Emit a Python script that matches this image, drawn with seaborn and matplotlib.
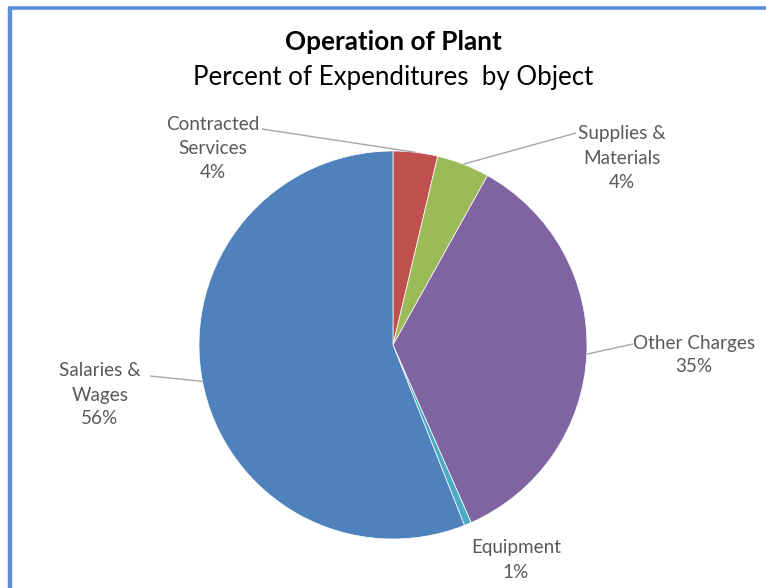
import matplotlib
matplotlib.use("Agg")
import matplotlib.pyplot as plt
import numpy as np
import seaborn as sns

sns.set_theme(style="white")
plt.rcParams["font.family"] = ["Lato", "DejaVu Sans"]

# Expenditure shares by object (percent)
categories = ["Contracted Services", "Supplies & Materials", "Other Charges",
              "Equipment", "Salaries & Wages"]
label_lines = ["Contracted\nServices", "Supplies &\nMaterials", "Other Charges",
               "Equipment", "Salaries &\nWages"]
shares = [3.7, 4.4, 35.3, 0.6, 56.0]
colors = ["#C0504D", "#9BBB59", "#8064A2", "#4BACC6", "#4F81BD"]

W, H = 766, 588
fig = plt.figure(figsize=(W / 100, H / 100), dpi=100)
ax = fig.add_axes([0, 0, 1, 1])

cx, cy, r = 393, H - 345, 194
wedges, _ = ax.pie(shares, colors=colors, startangle=90, counterclock=False,
                   center=(cx, cy), radius=r, frame=True,
                   wedgeprops=dict(edgecolor="white", linewidth=0.5))
ax.set_xlim(0, W)
ax.set_ylim(0, H)
ax.set_aspect("equal")
ax.axis("off")

# label placement (pixel coords from top-left) and leader-line start points
label_pos = [(213, 148), (622, 158), (694, 355), (516, 560), (100, 395)]
line_start = [(262, 129), (576, 133), (633, 344), None, (150, 376)]

total = sum(shares)
cum = 0.0
for i, (name, val) in enumerate(zip(label_lines, shares)):
    mid = cum + val / 2
    cum += val
    ang = np.deg2rad(90 - 360 * mid / total)
    ex, ey = cx + r * np.cos(ang), cy + r * np.sin(ang)
    lx, ly = label_pos[i]
    ax.text(lx, H - ly, f"{name}\n{round(val):.0f}%", ha="center", va="center",
            fontsize=13.6, color="#595959", linespacing=1.5)
    if line_start[i] is not None:
        sx, sy = line_start[i]
        ax.plot([sx, ex], [H - sy, ey], color="#A6A6A6", lw=1.0,
                solid_capstyle="butt")

fig.text(393 / W, 1 - 42 / H, "Operation of Plant", ha="center", va="center",
         fontsize=18.8, fontweight="bold", color="black")
fig.text(393 / W, 1 - 77 / H, "Percent of Expenditures  by Object", ha="center",
         va="center", fontsize=18.6, color="black")

# chart-area frame
ax.plot([9.5, 9.5], [0, H - 7], color="#5B8FD9", lw=3.2, solid_capstyle="butt")
ax.plot([8, W], [H - 7.5, H - 7.5], color="#5B8FD9", lw=2.6,
        solid_capstyle="butt")

fig.savefig("out.png", dpi=100, facecolor="white")
